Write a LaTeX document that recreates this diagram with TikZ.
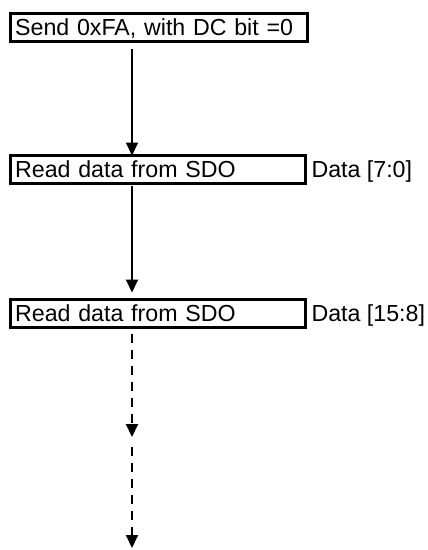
\documentclass[tikz,border=0pt]{standalone}
\usepackage{fontspec}
\setmainfont{Liberation Sans}
\usetikzlibrary{arrows.meta,positioning,calc}

\begin{document}
\begin{tikzpicture}[
    x=0.75pt, y=-0.75pt,
    every node/.style={font=\fontsize{17.4}{20}\selectfont},
    stepbox/.style={draw, line width=2.25pt, rectangle, anchor=north west,
        minimum height=21pt, inner xsep=3.5pt, inner ysep=0pt,
        text height=16.8pt, text depth=4.2pt,
        text width=#1, align=left, outer sep=0pt},
    datalabel/.style={inner sep=0pt, outer sep=0pt},
    flow/.style={line width=1.5pt, -{Triangle[width=9pt,length=9.75pt]}},
    flowdashed/.style={flow, dash pattern=on 6.75pt off 5.25pt}
]
\useasboundingbox (0,0) rectangle (428,550);

% boxes
\node[stepbox=215.75pt] (send)  at (10.5,13.5)  {Send 0xFA, with DC bit =0};
\node[stepbox=214.25pt] (read1) at (10.5,155.5) {Read data from SDO};
\node[stepbox=214.25pt] (read2) at (10.5,299.5) {Read data from SDO};

% data labels
\node[datalabel, right=4.5pt of read1.base east, anchor=base west] (data1) {Data [7:0]};
\node[datalabel, right=4.5pt of read2.base east, anchor=base west] (data2) {Data [15:8]};

% arrows
\coordinate (axis) at (132,0);
\coordinate (midtip) at (132,437);
\coordinate (midgap) at (132,447);
\coordinate (endtip) at (132,548);

\draw[flow] ($(send.south -| axis)+(0,7)$) -- (read1.north -| axis);
\draw[flow] ($(read1.south -| axis)+(0,2)$) -- ($(read2.north -| axis)+(0,-7)$);
\draw[flowdashed] ($(read2.south -| axis)+(0,6)$) -- (midtip);
\draw[flowdashed] (midgap) -- (endtip);
\end{tikzpicture}
\end{document}
